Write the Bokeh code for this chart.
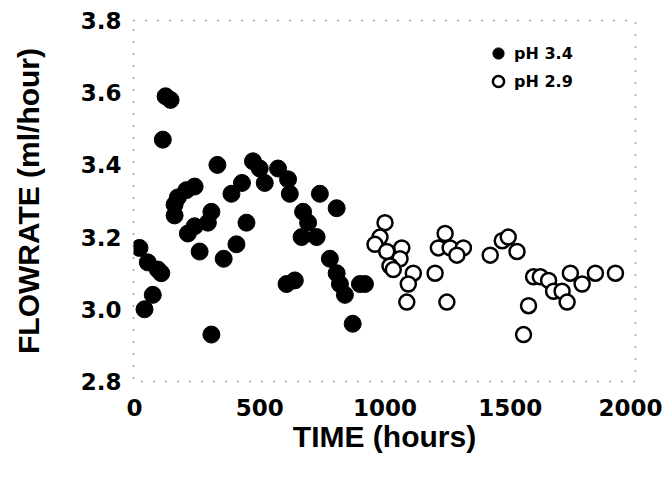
from bokeh.plotting import figure
from bokeh.models import ColumnDataSource, Legend, LegendItem, FixedTicker, Range1d
from bokeh.embed import file_html
from bokeh.resources import INLINE

# pH 3.4 series (filled)
time_ph34 = [124, 144, 113, 331, 429, 387, 240, 207, 173, 160, 160, 307, 293, 240, 213,
             447, 407, 260, 356, 20, 53, 93, 107, 73, 40, 307, 473, 500, 520, 573,
             613, 620, 740, 807, 673, 693, 667, 727, 780, 807, 820, 840, 900, 920,
             607, 640, 871]
flow_ph34 = [3.59, 3.58, 3.47, 3.40, 3.35, 3.32, 3.34, 3.33, 3.31, 3.29, 3.26, 3.27, 3.24, 3.23, 3.21,
             3.24, 3.18, 3.16, 3.14, 3.17, 3.13, 3.11, 3.10, 3.04, 3.00, 2.93, 3.41, 3.39, 3.35, 3.39,
             3.36, 3.32, 3.32, 3.28, 3.27, 3.24, 3.20, 3.20, 3.14, 3.10, 3.07, 3.04, 3.07, 3.07,
             3.07, 3.08, 2.96]

# pH 2.9 series (open)
time_ph29 = [1000, 980, 960, 1007, 1067, 1060, 1020, 1033, 1113, 1093, 1087, 1200, 1240, 1213,
             1260, 1313, 1287, 1247, 1420, 1468, 1492, 1527, 1593, 1620, 1653, 1673, 1707,
             1727, 1740, 1787, 1840, 1920, 1573, 1553]
flow_ph29 = [3.24, 3.20, 3.18, 3.16, 3.17, 3.14, 3.12, 3.11, 3.10, 3.07, 3.02, 3.10, 3.21, 3.17,
             3.17, 3.17, 3.15, 3.02, 3.15, 3.19, 3.20, 3.16, 3.09, 3.09, 3.08, 3.05, 3.05,
             3.02, 3.10, 3.07, 3.10, 3.10, 3.01, 2.93]

x_ticks = [0, 500, 1000, 1500, 2000]
y_ticks = [2.8, 3.0, 3.2, 3.4, 3.6, 3.8]
y_tick_labels = {2.8: "2.8", 3.0: "3.0", 3.2: "3.2", 3.4: "3.4", 3.6: "3.6", 3.8: "3.8"}
legend_labels = ["pH 3.4", "pH 2.9"]

p = figure(width=662, height=469, output_backend="svg", toolbar_location=None,
           x_range=Range1d(-4, 2000), y_range=Range1d(2.8, 3.8),
           min_border_left=133, min_border_right=27, min_border_top=20, min_border_bottom=88)

p.background_fill_color = "white"
p.border_fill_color = "white"
p.outline_line_color = "black"
p.outline_line_dash = "1 11"
p.outline_line_width = 1.5
p.outline_line_alpha = 0.7
p.grid.visible = False

src34 = ColumnDataSource(dict(x=time_ph34, y=flow_ph34))
src29 = ColumnDataSource(dict(x=time_ph29, y=flow_ph29))

r34 = p.scatter("x", "y", source=src34, size=17, fill_color="black", line_color="black")
r29 = p.scatter("x", "y", source=src29, size=15, fill_color="white", line_color="black", line_width=2.5)

for ax in (p.xaxis[0], p.yaxis[0]):
    ax.axis_line_color = None
    ax.major_tick_line_color = None
    ax.minor_tick_line_color = None
    ax.major_tick_out = 0
    ax.major_tick_in = 0
    ax.major_label_text_font = "DejaVu Sans"
    ax.major_label_text_font_style = "bold"
    ax.major_label_text_font_size = "23px"
    ax.major_label_text_color = "black"
    ax.axis_label_text_font = "Liberation Sans"
    ax.axis_label_text_font_style = "bold"
    ax.axis_label_text_font_size = "30px"
    ax.axis_label_text_color = "black"

p.xaxis[0].ticker = FixedTicker(ticks=x_ticks)
p.yaxis[0].ticker = FixedTicker(ticks=y_ticks)
p.yaxis[0].major_label_overrides = y_tick_labels
p.xaxis[0].axis_label = "TIME (hours)"
p.yaxis[0].axis_label = "FLOWRATE (ml/hour)"
p.xaxis[0].major_label_standoff = 17
p.yaxis[0].major_label_standoff = 12
p.xaxis[0].axis_label_standoff = 1
p.yaxis[0].axis_label_standoff = 33

legend = Legend(items=[LegendItem(label=legend_labels[0], renderers=[r34]),
                       LegendItem(label=legend_labels[1], renderers=[r29])],
                location=(350, 286), orientation="vertical",
                glyph_width=30, glyph_height=28, spacing=0, padding=0, margin=0,
                label_standoff=1,
                label_text_font="DejaVu Sans", label_text_font_style="bold",
                label_text_font_size="16px", label_height=28, label_text_color="black",
                border_line_color=None, background_fill_alpha=0)
p.add_layout(legend, "center")

open("out.html", "w").write(file_html(p, INLINE))
